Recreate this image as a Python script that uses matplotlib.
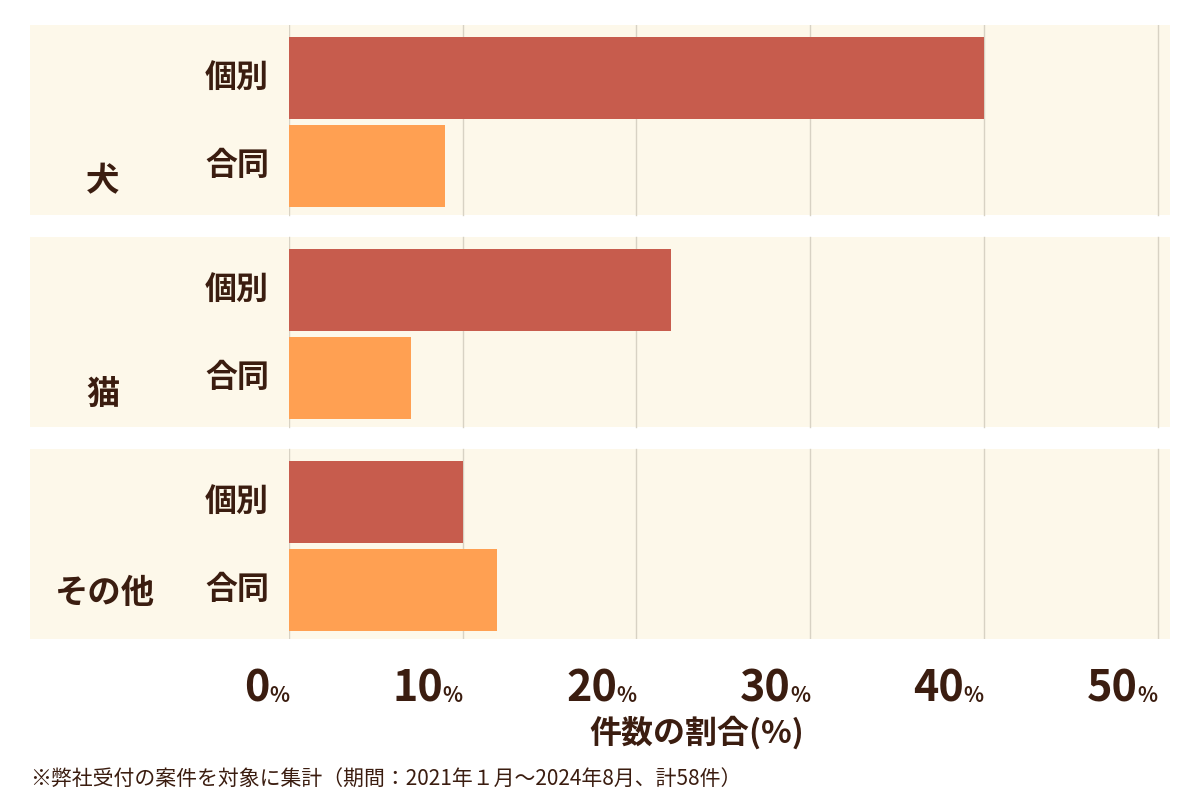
import matplotlib
matplotlib.use("Agg")
import matplotlib.pyplot as plt
from matplotlib.patches import Rectangle
import matplotlib.transforms as mtransforms

plt.rcParams['font.family'] = ['Noto Sans CJK JP', 'DejaVu Sans']

groups = ['犬', '猫', 'その他']
series = ['個別', '合同']
pct_individual = [40, 22, 10]
pct_joint = [9, 7, 12]
xticks = [0, 10, 20, 30, 40, 50]
xlabel = '件数の割合(%)'
note = '※弊社受付の案件を対象に集計（期間：2021年１月〜2024年8月、計58件）'

c_ind = '#C75C4D'
c_joint = '#FFA052'
c_bg = '#FDF8EA'
c_text = '#3B1D10'
c_grid = '#D8D2C4'

fig = plt.figure(figsize=(12, 8), dpi=100)
W, H = 1200, 800
top_px, bot_px = 25, 639
ax = fig.add_axes([289 / W, 1 - bot_px / H, (1170 - 289) / W, (bot_px - top_px) / H])
ax.set_xlim(0, (1170 - 289) / 17.37)
ax.set_ylim(bot_px - top_px, 0)
ax.axis('off')

group_h, group_gap, pad, bar_h, bar_gap = 190, 22, 12, 82, 6
blend = mtransforms.blended_transform_factory(fig.transFigure, ax.transData)
for gi, g in enumerate(groups):
    g0 = gi * (group_h + group_gap)
    ax.add_patch(Rectangle((30 / W, g0), (1170 - 30) / W, group_h, transform=blend,
                           facecolor=c_bg, edgecolor='none', zorder=0, clip_on=False))
    ax.text(105 / W if gi == 2 else 103 / W, g0 + 157 if gi < 2 else g0 + 145, g, transform=blend,
            ha='center', va='center', fontsize=24, fontweight='bold', color=c_text)
    vals = [pct_individual[gi], pct_joint[gi]]
    for si, (s, v, c) in enumerate(zip(series, vals, [c_ind, c_joint])):
        y = g0 + pad + si * (bar_h + bar_gap)
        ax.barh(y + bar_h / 2, v, height=bar_h, left=0, color=c, zorder=3)
        ax.text(237 / W, y + bar_h / 2, s, transform=blend, ha='center', va='center',
                fontsize=23, fontweight='bold', color=c_text)
    for t in xticks:
        ax.plot([t, t], [g0, g0 + group_h], color=c_grid, lw=1, zorder=1)

for t in xticks:
    ax.annotate('%', (t, bot_px - top_px), xytext=(0, -45), textcoords='offset points',
                ha='right', va='baseline', fontsize=15, fontweight='bold', color=c_text,
                annotation_clip=False)
    ax.annotate(str(t), (t, bot_px - top_px), xytext=(-14, -45), textcoords='offset points',
                ha='right', va='baseline', fontsize=31, fontweight='bold', color=c_text,
                annotation_clip=False)

fig.text(697 / W, 1 - 733 / H, xlabel, ha='center', va='center', fontsize=23,
         fontweight='bold', color=c_text)
fig.text(30 / W, 1 - 780 / H, note, ha='left', va='center', fontsize=15, color=c_text)

fig.savefig('out.png', dpi=100, facecolor='white')
